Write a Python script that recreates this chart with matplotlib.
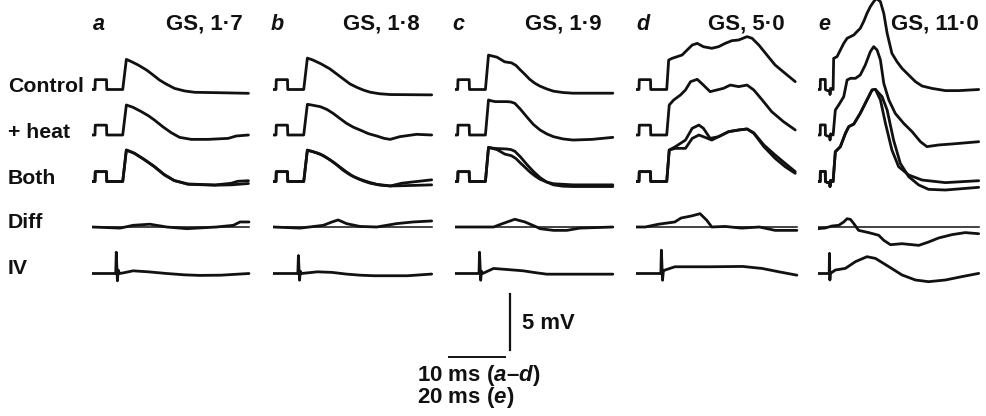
import matplotlib
matplotlib.use("Agg")
import matplotlib.pyplot as plt
import numpy as np

# ---------------- data (time in ms, voltage in mV) ----------------
panel_letters = ["a", "b", "c", "d", "e"]
panel_titles = ["GS, 1\u00b77", "GS, 1\u00b78", "GS, 1\u00b79", "GS, 5\u00b70", "GS, 11\u00b70"]
row_labels = ["Control", "+ heat", "Both", "Diff", "IV"]
time_bar_ms = [10, 10, 10, 10, 20]

pulse_ad = [(0, 0), (0.5, 0), (0.55, 0.88), (2.55, 0.88), (2.6, 0), (5.45, 0)]
pulse_e = [(0, 0), (0.9, 0), (0.95, 0.9), (2.7, 0.9), (2.75, 0), (3.5, -0.1), (4.3, -0.1),
           (4.4, -0.45), (4.6, 0.1), (5.5, 0.0)]

# panel a
a_ctrl = [(6.1, 2.69), (7.0, 2.49), (8.2, 2.19), (9.7, 1.74), (10.9, 1.29), (12.0, 0.85),
          (13.2, 0.49), (14.7, 0.1), (16.5, -0.13), (18.3, -0.25), (21.9, -0.28), (27.9, -0.34)]
a_heat = [(6.1, 2.68), (7.3, 2.47), (8.8, 2.08), (10.0, 1.73), (11.1, 1.34), (12.6, 0.74),
          (14.1, 0.21), (15.6, -0.21), (17.7, -0.39), (20.7, -0.39), (24.3, -0.3),
          (25.7, -0.09), (27.9, 0.0)]
a_both1 = [(6.1, 2.81), (7.6, 2.51), (9.4, 1.92), (11.1, 1.32), (12.9, 0.58), (14.7, 0.07),
           (17.1, -0.22), (21.9, -0.31), (24.8, -0.16), (26.0, 0.02), (27.9, 0.07)]
a_both2 = [(6.1, 2.81), (7.4, 2.55), (9.2, 2.0), (11.0, 1.38), (12.8, 0.65), (14.6, 0.1),
           (17.1, -0.25), (21.9, -0.33), (24.8, -0.3), (27.9, -0.18)]
a_diff = [(0, 0), (5.0, -0.1), (7.3, 0.15), (10.3, 0.25), (13.3, 0.0), (16.9, -0.15),
          (22.2, 0.0), (25.2, 0.15), (26.4, 0.45), (28.0, 0.45)]
a_iv = [(0, 0), (4.2, 0), (4.3, 1.9), (4.5, -0.65), (4.65, 0.3), (4.85, 0), (5.5, 0.05),
        (7.3, 0.24), (10.0, 0.15), (13.3, 0.0), (16.5, -0.12), (19.2, -0.17), (23.0, -0.15),
        (28.0, 0.0)]

# panel b
b_ctrl = [(6.1, 2.8), (7.0, 2.65), (8.5, 2.3), (10.1, 1.85), (11.3, 1.4), (12.5, 0.95),
          (13.7, 0.5), (14.9, 0.2), (16.1, -0.05), (17.3, -0.24), (19.0, -0.38),
          (20.9, -0.45), (28.3, -0.48)]
b_heat = [(6.1, 2.74), (6.6, 2.7), (8.4, 2.53), (9.6, 2.28), (10.7, 1.93), (11.9, 1.48),
          (13.1, 1.04), (14.3, 0.7), (15.5, 0.45), (17.0, 0.12), (18.5, -0.09),
          (19.8, -0.3), (20.9, -0.39), (22.6, -0.15), (25.6, 0.06), (28.3, 0.0)]
b_both1 = [(6.1, 2.8), (7.8, 2.55), (9.0, 2.3), (10.1, 1.95), (11.3, 1.5), (12.5, 1.0),
           (13.7, 0.6), (14.9, 0.3), (16.1, 0.05), (17.3, -0.15), (19.0, -0.32),
           (20.9, -0.4), (23.0, -0.15), (28.3, 0.15)]
b_both2 = [(6.1, 2.8), (7.2, 2.65), (8.4, 2.45), (9.6, 2.1), (10.7, 1.75), (11.9, 1.3),
           (13.1, 0.85), (14.3, 0.45), (15.5, 0.2), (17.0, -0.05), (18.5, -0.25),
           (21.0, -0.4), (25.0, -0.35), (28.3, -0.3)]
b_diff = [(0, 0), (4.8, -0.1), (8.95, 0.15), (10.5, 0.45), (11.6, 0.63), (13.1, 0.3),
          (15.5, 0.05), (18.5, 0.0), (22.0, 0.3), (25.0, 0.45), (28.3, 0.54)]
b_iv = [(0, 0), (4.4, 0), (4.5, 1.6), (4.7, -0.6), (4.85, 0.2), (5.05, 0), (7.9, 0.15),
        (10.5, 0.1), (13.0, -0.05), (15.5, -0.15), (18.0, -0.2), (24.0, -0.2), (28.3, -0.05)]

# panel c
c_ctrl = [(6.0, 3.07), (7.5, 2.89), (8.9, 2.47), (10.1, 2.38), (10.9, 2.15), (11.6, 1.79),
          (12.5, 1.35), (13.4, 0.89), (14.3, 0.55), (15.2, 0.3), (16.4, 0.05), (17.6, -0.15),
          (19.3, -0.27), (21.1, -0.33), (28.2, -0.33)]
c_heat = [(6.0, 3.13), (6.5, 3.05), (7.2, 2.98), (9.3, 2.98), (10.0, 2.95), (10.7, 2.83),
          (11.7, 2.3), (12.8, 1.64), (14.0, 0.95), (15.2, 0.45), (16.4, 0.1), (17.6, -0.15),
          (19.3, -0.35), (21.1, -0.45), (24.5, -0.39), (28.2, -0.21)]
c_both1 = [(6.0, 3.04), (7.5, 2.85), (8.9, 2.45), (10.1, 2.3), (10.9, 2.05), (11.6, 1.7),
           (12.5, 1.28), (13.4, 0.85), (14.3, 0.5), (15.2, 0.2), (16.4, -0.05), (17.6, -0.2),
           (21.1, -0.3), (28.2, -0.3)]
c_both2 = [(6.0, 3.04), (7.2, 2.95), (9.3, 2.9), (10.0, 2.85), (10.7, 2.7), (11.7, 2.2),
           (12.8, 1.55), (14.0, 0.9), (15.2, 0.35), (16.4, -0.05), (17.6, -0.3),
           (19.3, -0.42), (21.1, -0.45), (28.2, -0.45)]
c_diff = [(0, 0), (6.9, 0.0), (8.5, 0.3), (10.7, 0.69), (12.5, 0.45), (14.6, 0.0),
          (15.2, -0.15), (17.6, -0.3), (20.0, -0.3), (22.3, -0.1), (28.2, 0.0)]
c_iv = [(0, 0), (4.3, 0), (4.4, 1.9), (4.6, -0.6), (4.75, 0.2), (4.95, 0), (6.9, 0.45),
        (9.5, 0.35), (12.2, 0.24), (14.3, 0.08), (16.4, -0.06), (28.2, -0.06)]

# panel d
d_ctrl = [(5.8, 2.63), (6.4, 2.78), (8.2, 3.08), (9.1, 3.53), (10.0, 3.97), (10.9, 4.12),
          (12.0, 3.82), (13.5, 3.68), (14.7, 3.82), (15.9, 4.12), (17.1, 4.36), (18.3, 4.42),
          (19.8, 4.72), (20.7, 4.57), (21.9, 3.97), (23.1, 3.23), (24.8, 2.19), (26.6, 1.44),
          (28.4, 0.7)]
d_heat = [(5.9, 2.68), (6.7, 3.13), (7.9, 3.57), (8.8, 4.02), (9.7, 4.76), (10.9, 4.97),
          (12.0, 4.46), (13.2, 3.87), (14.4, 4.02), (15.6, 4.17), (16.8, 4.46), (18.3, 4.32),
          (19.8, 4.46), (21.0, 4.02), (22.5, 3.13), (24.2, 2.08), (26.3, 1.19), (28.4, 0.45)]
d_both1 = [(5.9, 2.81), (7.0, 3.11), (8.8, 3.7), (10.0, 4.75), (11.2, 5.04), (12.0, 4.75),
           (13.2, 3.85), (14.7, 4.0), (16.5, 4.45), (18.3, 4.6), (19.8, 4.69), (21.0, 4.3),
           (22.8, 3.11), (24.8, 2.07), (26.6, 1.32), (28.4, 0.73)]
d_both2 = [(5.9, 2.81), (7.0, 2.96), (8.8, 2.96), (10.0, 3.85), (11.2, 4.15), (12.0, 4.0),
           (13.5, 3.7), (14.7, 4.0), (16.5, 4.45), (18.3, 4.6), (19.8, 4.69), (21.0, 4.35),
           (22.8, 3.26), (24.8, 2.37), (26.6, 1.62), (28.4, 0.88)]
d_diff = [(0, 0), (1.6, 0.0), (4.0, 0.25), (6.9, 0.45), (8.0, 0.8), (10.0, 1.0), (11.4, 1.19),
          (12.6, 0.6), (13.5, 0.0), (15.9, 0.05), (18.8, -0.1), (22.0, 0.0), (24.8, -0.3),
          (28.7, -0.3)]
d_iv = [(0, 0), (4.4, 0), (4.5, 2.08), (4.7, -0.6), (4.85, 0.2), (5.1, 0.3), (6.9, 0.6),
        (13.0, 0.6), (19.0, 0.63), (22.5, 0.45), (25.5, 0.15), (28.7, -0.15)]

# panel e
e_ctrl = [(5.7, 2.78), (6.9, 2.93), (8.1, 3.53), (9.3, 4.12), (10.5, 4.57), (11.7, 4.72),
          (12.9, 4.87), (14.0, 5.16), (15.2, 5.46), (16.4, 6.06), (17.6, 6.8), (18.8, 7.4),
          (20.0, 7.84), (20.95, 8.14), (22.4, 7.84), (23.6, 6.8), (24.8, 5.02), (26.5, 3.23),
          (28.3, 2.49), (30.1, 1.89), (32.5, 1.29), (34.9, 0.7), (37.3, 0.31), (40.8, 0.1),
          (45.6, -0.1), (50.4, -0.1), (57.5, 0.0)]
e_heat = [(6.3, 2.23), (7.5, 2.68), (9.3, 3.42), (10.5, 4.91), (11.7, 5.06), (13.5, 5.06),
          (15.2, 5.36), (17.0, 6.25), (18.8, 7.44), (20.0, 7.89), (21.2, 7.59), (22.4, 6.7),
          (23.6, 4.61), (25.4, 3.13), (27.7, 1.93), (30.7, 1.04), (33.7, 0.3), (36.7, -0.6),
          (39.0, -1.04), (43.2, -0.89), (48.0, -0.8), (57.5, -0.6)]
e_both1 = [(6.3, 2.66), (8.1, 3.11), (9.9, 4.3), (11.1, 4.9), (12.9, 5.13), (15.2, 6.09),
           (17.6, 7.28), (19.4, 8.17), (20.6, 8.23), (22.4, 7.28), (24.2, 5.19), (26.5, 2.81),
           (28.9, 1.32), (32.5, 0.58), (37.3, 0.13), (45.6, -0.1), (57.5, 0.07)]
e_both2 = [(6.3, 2.66), (8.1, 3.11), (9.9, 4.3), (11.1, 4.9), (12.9, 5.13), (15.2, 6.09),
           (17.6, 7.28), (19.4, 8.17), (20.6, 8.23), (23.0, 7.57), (24.8, 6.38), (27.1, 3.7),
           (29.5, 1.62), (32.5, 0.43), (36.1, -0.31), (39.6, -0.7), (45.6, -0.76),
           (57.5, -0.52)]
e_diff = [(0, -0.15), (2.7, -0.09), (5.1, 0.09), (7.5, 0.15), (9.3, 0.45), (10.5, 0.74),
          (11.7, 0.68), (12.9, 0.3), (14.6, -0.3), (18.2, -0.5), (21.8, -0.74), (23.6, -1.19),
          (26.0, -1.58), (30.1, -1.49), (36.1, -1.64), (39.6, -1.34), (43.2, -0.98),
          (48.0, -0.68), (52.7, -0.5), (57.5, -0.6)]
e_iv = [(0, 0), (4.1, 0), (4.2, 1.8), (4.35, -0.58), (4.5, 0.0), (6.3, 0.31), (9.9, 0.46),
        (13.5, 1.06), (17.6, 1.5), (20.6, 1.35), (25.4, 0.61), (30.1, -0.13), (34.9, -0.58),
        (39.6, -0.73), (45.6, -0.58), (51.5, -0.28), (57.5, 0.01)]

panels = [
    (pulse_ad, a_ctrl, a_heat, a_both1, a_both2, a_diff, a_iv),
    (pulse_ad, b_ctrl, b_heat, b_both1, b_both2, b_diff, b_iv),
    (pulse_ad, c_ctrl, c_heat, c_both1, c_both2, c_diff, c_iv),
    (pulse_ad, d_ctrl, d_heat, d_both1, d_both2, d_diff, d_iv),
    (pulse_e, e_ctrl, e_heat, e_both1, e_both2, e_diff, e_iv),
]

# ---------------- layout ----------------
W, H = 987, 416
PX_PER_MV = 11.2          # 5 mV = 56 px
PX_PER_BAR = 56.0         # time bar length
panel_left_px = [92.2, 273.2, 454.9, 636.2, 817.7]
panel_width_px = 166
row_base_px = [89.5, 135.0, 181.5, 227.0, 273.5]
LW = 2.0
COL = "#111111"
FONT = "Liberation Sans"

plt.rcParams["mathtext.fontset"] = "custom"
plt.rcParams["mathtext.rm"] = "Liberation Sans:bold"
plt.rcParams["mathtext.it"] = "Liberation Sans:bold:italic"
plt.rcParams["mathtext.bf"] = "Liberation Sans:bold"

fig = plt.figure(figsize=(W / 100, H / 100), dpi=100)
fig.patch.set_facecolor("white")


def xy(pts):
    arr = np.array(pts, dtype=float)
    return arr[:, 0], arr[:, 1]


axes = []
for i, (pulse, ctrl, heat, b1, b2, diff, iv) in enumerate(panels):
    px_per_ms = PX_PER_BAR / time_bar_ms[i]
    ax = fig.add_axes([panel_left_px[i] / W, 0, panel_width_px / W, 1])
    ax.set_xlim(0, panel_width_px / px_per_ms)
    ax.set_ylim(0, H / PX_PER_MV)
    ax.axis("off")
    offs = [(H - b) / PX_PER_MV for b in row_base_px]
    kw = dict(color=COL, lw=LW, solid_joinstyle="round", solid_capstyle="round")
    for r, tr in enumerate([ctrl, heat]):
        t, v = xy(pulse + tr)
        ax.plot(t, v + offs[r], **kw)
    for tr in (b1, b2):
        t, v = xy(pulse + tr)
        ax.plot(t, v + offs[2], **kw)
    t, v = xy(diff)
    ax.plot([t[0], t[-1]], [offs[3], offs[3]], color=COL, lw=1.1)
    ax.plot(t, v + offs[3], **kw)
    t, v = xy(iv)
    ax.plot(t, v + offs[4], **kw)
    axes.append(ax)

# scale bars (drawn in panel c data units: 10 ms, 5 mV)
axc = axes[2]
x0c = panel_left_px[2]
pms = PX_PER_BAR / 10
hb_t0 = (449.3 - x0c) / pms
axc.plot([hb_t0, hb_t0 + 10], [(H - 357.3) / PX_PER_MV] * 2, color=COL, lw=1.4, clip_on=False)
vb_t = (510.0 - x0c) / pms
vb_y0 = (H - 350.0) / PX_PER_MV
axc.plot([vb_t, vb_t], [vb_y0, vb_y0 + 5], color=COL, lw=1.6, clip_on=False)


def ftext(x, y, s, ha="left", style="normal", fs=15.0, **kw):
    return fig.text(x / W, 1 - y / H, s, ha=ha, va="center", family=FONT,
                    weight="bold", style=style, fontsize=fs, color=COL, **kw)


# row labels
row_label_y = [86, 132.7, 178.3, 222.7, 268.3]
for lab, y in zip(row_labels, row_label_y):
    ftext(8, y, lab, fs=15.3)

# panel letters and titles
letter_x = [93, 270.5, 452.5, 636, 818]
title_right = [243, 420, 602, 785, 979]
for i in range(5):
    ftext(letter_x[i], 24, panel_letters[i], style="italic", fs=15.5)
    ftext(title_right[i], 24, panel_titles[i], ha="right", fs=16.0)

ftext(521.5, 323.5, "5 mV", fs=15.8)

# time-bar caption as one two-line text
ftext(417.3, 386.5,
      "10 ms ($\\mathit{a}$\u2013$\\mathit{d}$)\n20 ms ($\\mathit{e}$)",
      fs=16.0, linespacing=0.8)

fig.savefig("out.png", dpi=100, facecolor="white")
